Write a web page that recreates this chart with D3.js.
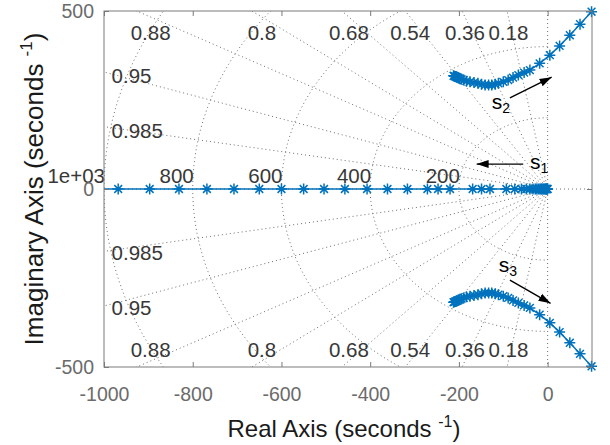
<!DOCTYPE html>
<html>
<head>
<meta charset="utf-8">
<script src="https://cdn.jsdelivr.net/npm/d3@7/dist/d3.min.js"></script>
<style>
  html, body { margin: 0; padding: 0; background: #fff; }
  svg { display: block; font-family: "Liberation Sans", Arial, Helvetica, sans-serif; }
</style>
</head>
<body>
<svg id="chart" width="610" height="445"></svg>
<script>
// ---- root locus data (seconds^-1) ----
const s1Re = [0, -1, -2, -3, -4, -5, -7, -9, -11, -14, -17, -20, -24, -28, -33, -40, -48, -59, -74, -93,
              -130, -149, -169, -220, -247, -271, -316, -361, -407, -457, -504, -550, -600, -650,
              -707, -768, -831, -897, -968, -1045];
const s1Im = s1Re.map(() => 0);

const s2Re = [-212, -210, -208, -206, -204, -201, -198, -194, -189, -183, -175, -166, -157, -149, -141,
              -133, -126, -118, -111, -100, -89, -78, -66, -53, -40, -18, 5, 27, 50, 73, 99];
const s2Im = [318, 317, 316, 315, 314, 312, 310, 308, 306, 303, 301, 299, 297, 294, 292,
              292, 292, 294, 297, 301, 306, 313, 320, 327, 334, 353, 376, 402, 432, 463, 498];

const s3Re = [-212, -210, -208, -206, -204, -201, -198, -194, -189, -183, -175, -166, -157, -149, -141,
              -133, -126, -118, -111, -100, -89, -78, -66, -53, -40, -18, 5, 27, 50, 73, 99];
const s3Im = [-318, -317, -316, -315, -314, -312, -310, -308, -306, -303, -301, -299, -297, -294, -292,
              -292, -292, -294, -297, -301, -306, -313, -320, -327, -334, -353, -376, -402, -432, -463, -498];

// ---- axis ticks ----
const xTicks = [-1000, -800, -600, -400, -200, 0];
const yTicks = [-500, 0, 500];

// ---- s-plane grid: damping ratios and natural frequencies ----
const zetaValues = [0.985, 0.95, 0.88, 0.8, 0.68, 0.54, 0.36, 0.18];
const zetaLabels = ["0.985", "0.95", "0.88", "0.8", "0.68", "0.54", "0.36", "0.18"];
const wnValues = [200, 400, 600, 800, 1000];
const wnLabels = ["200", "400", "600", "800", "1e+03"];

// ---- branch annotations (label anchor, arrow tail, arrow head) in s-plane units ----
const branchNames = ["1", "2", "3"];
const labelRe = [-40, -126, -110];
const labelIm = [56, 225, -233];
const arrowFromRe = [-55, -85, -85];
const arrowFromIm = [70, 256, -256];
const arrowToRe = [-160, 9, 6.5];
const arrowToIm = [70, 314, -321];

// ---- layout ----
const W = 610, H = 445;
const margin = { left: 104, right: 18, top: 11, bottom: 78 };
const blue = "#0072BD";

const svg = d3.select("#chart");
const x = d3.scaleLinear().domain([-1000, 100]).range([margin.left, W - margin.right]);
const y = d3.scaleLinear().domain([-500, 500]).range([H - margin.bottom, margin.top]);
const [x0, x1] = x.range();
const [y1, y0] = y.range();

const defs = svg.append("defs");
defs.append("clipPath").attr("id", "plotClip")
  .append("rect").attr("x", x0).attr("y", y0).attr("width", x1 - x0).attr("height", y1 - y0);
defs.append("marker")
  .attr("id", "arrowHead").attr("viewBox", "-12 -5 13 10")
  .attr("refX", 0).attr("refY", 0)
  .attr("markerWidth", 13).attr("markerHeight", 10)
  .attr("markerUnits", "userSpaceOnUse").attr("orient", "auto")
  .append("path").attr("d", "M0,0L-12,-4L-12,4Z").attr("fill", "#000");

// ---- grid ----
const grid = svg.append("g").attr("clip-path", "url(#plotClip)")
  .attr("fill", "none").attr("stroke", "#6e6e6e").attr("stroke-width", 1)
  .attr("stroke-dasharray", "1,3");

// real and imaginary axes
grid.append("line").attr("x1", x0).attr("x2", x1).attr("y1", y(0)).attr("y2", y(0));
grid.append("line").attr("x1", x(0)).attr("x2", x(0)).attr("y1", y0).attr("y2", y1);

// constant damping rays
const R = 3000;
zetaValues.forEach(z => {
  const wd = Math.sqrt(1 - z * z);
  [1, -1].forEach(sg => {
    grid.append("line")
      .attr("x1", x(0)).attr("y1", y(0))
      .attr("x2", x(-R * z)).attr("y2", y(sg * R * wd));
  });
});

// constant natural frequency arcs (left half-plane)
const arcLine = d3.line().x(d => x(d[0])).y(d => y(d[1]));
wnValues.forEach(w => {
  const pts = d3.range(0, 181).map(i => {
    const a = Math.PI / 2 + i * Math.PI / 180;
    return [w * Math.cos(a), w * Math.sin(a)];
  });
  grid.append("path").attr("d", arcLine(pts));
});

// ---- grid labels ----
const gl = svg.append("g").attr("fill", "#383838").attr("font-size", 20.5);
zetaValues.forEach((z, i) => {
  const cot = z / Math.sqrt(1 - z * z);
  const xTop = -500 * cot;
  if (xTop > -1000) {
    const xl = -483 * cot;
    gl.append("text").attr("x", x(xl)).attr("y", y(440)).attr("text-anchor", "middle")
      .attr("dominant-baseline", "central").text(zetaLabels[i]);
    gl.append("text").attr("x", x(xl)).attr("y", y(-452)).attr("text-anchor", "middle")
      .attr("dominant-baseline", "central").text(zetaLabels[i]);
  } else {
    const yl = 1000 / cot;
    gl.append("text").attr("x", x(-983)).attr("y", y(yl) + 4).attr("text-anchor", "start")
      .attr("dominant-baseline", "central").text(zetaLabels[i]);
    gl.append("text").attr("x", x(-983)).attr("y", y(-yl) + 1).attr("text-anchor", "start")
      .attr("dominant-baseline", "central").text(zetaLabels[i]);
  }
});
wnValues.forEach((w, i) => {
  gl.append("text").attr("x", x(-w) + 1).attr("y", y(0) - 6).attr("text-anchor", "end")
    .text(wnLabels[i]);
});

// ---- root locus branches ----
const asterisk = "M-5.5,0H5.5M0,-5.5V5.5M-3.9,-3.9L3.9,3.9M-3.9,3.9L3.9,-3.9";
const branches = [
  d3.zip(s1Re, s1Im),
  d3.zip(s2Re, s2Im),
  d3.zip(s3Re, s3Im)
];
const locusLine = d3.line().x(d => x(d[0])).y(d => y(d[1]));
const loc = svg.append("g");
branches.forEach(pts => {
  loc.append("path").attr("clip-path", "url(#plotClip)")
    .attr("d", locusLine(pts)).attr("fill", "none")
    .attr("stroke", blue).attr("stroke-width", 1.5);
  loc.selectAll(null)
    .data(pts.filter(d => d[0] >= -1000 && d[0] <= 100 && d[1] >= -500 && d[1] <= 500))
    .join("path")
    .attr("transform", d => `translate(${x(d[0])},${y(d[1])})`)
    .attr("d", asterisk).attr("fill", "none")
    .attr("stroke", blue).attr("stroke-width", 1.5);
});

// ---- branch annotations ----
const ann = svg.append("g");
branchNames.forEach((name, i) => {
  ann.append("line")
    .attr("x1", x(arrowFromRe[i])).attr("y1", y(arrowFromIm[i]))
    .attr("x2", x(arrowToRe[i])).attr("y2", y(arrowToIm[i]))
    .attr("stroke", "#000").attr("stroke-width", 1.4)
    .attr("marker-end", "url(#arrowHead)");
  const t = ann.append("text").attr("x", x(labelRe[i])).attr("y", y(labelIm[i]))
    .attr("font-size", 21).attr("fill", "#000");
  t.append("tspan").text("s");
  t.append("tspan").attr("dy", 4).attr("font-size", 14).text(name);
});

// ---- axes frame and ticks ----
const axisColor = "#7a7a7a";
const frame = svg.append("g");
frame.append("rect").attr("x", x0).attr("y", y0).attr("width", x1 - x0).attr("height", y1 - y0)
  .attr("fill", "none").attr("stroke", axisColor).attr("stroke-width", 1);

function styleAxis(g, showText) {
  g.select(".domain").remove();
  g.selectAll(".tick line").attr("stroke", axisColor);
  g.selectAll(".tick text").attr("fill", "#6b6b6b").attr("font-size", 19.5)
    .attr("font-family", "Liberation Sans, Arial, sans-serif")
    .style("display", showText ? null : "none");
}
frame.append("g").attr("transform", `translate(0,${y1})`)
  .call(d3.axisBottom(x).tickValues(xTicks).tickSize(-5).tickPadding(20).tickFormat(d3.format("d")))
  .call(g => styleAxis(g, true));
frame.append("g").attr("transform", `translate(0,${y0})`)
  .call(d3.axisTop(x).tickValues(xTicks).tickSize(-5))
  .call(g => styleAxis(g, false));
frame.append("g").attr("transform", `translate(${x0},0)`)
  .call(d3.axisLeft(y).tickValues(yTicks).tickSize(-5).tickPadding(10).tickFormat(d3.format("d")))
  .call(g => styleAxis(g, true));
frame.append("g").attr("transform", `translate(${x1},0)`)
  .call(d3.axisRight(y).tickValues(yTicks).tickSize(-5))
  .call(g => styleAxis(g, false));
svg.selectAll(".tick text").text(function () { return this.textContent.replace("−", "-"); });

// ---- axis titles ----
const xt = svg.append("text").attr("x", (x0 + x1) / 2 - 4).attr("y", 437)
  .attr("text-anchor", "middle").attr("font-size", 24).attr("fill", "#1a1a1a");
xt.append("tspan").text("Real Axis (seconds ");
xt.append("tspan").attr("font-size", 16).attr("dy", -10).text("-1");
xt.append("tspan").attr("dy", 10).text(")");

const yt = svg.append("text")
  .attr("transform", `translate(43,${(y0 + y1) / 2}) rotate(-90)`)
  .attr("text-anchor", "middle").attr("font-size", 26).attr("fill", "#1a1a1a");
yt.append("tspan").text("Imaginary Axis (seconds ");
yt.append("tspan").attr("font-size", 17).attr("dy", -11).text("-1");
yt.append("tspan").attr("dy", 11).text(")");
</script>
</body>
</html>
